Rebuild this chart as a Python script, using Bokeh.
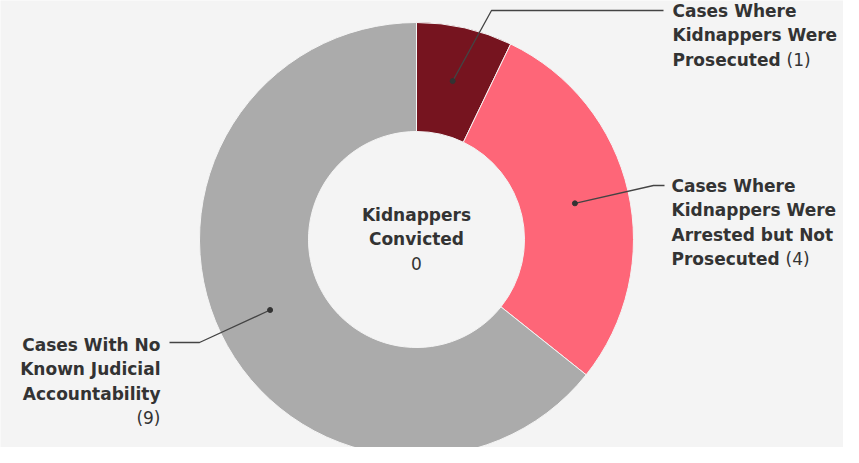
import math
from bokeh.plotting import figure
from bokeh.models import Range1d, ColumnDataSource
from bokeh.core.properties import value
from bokeh.embed import file_html
from bokeh.resources import INLINE

# ---- data ----
categories = ["Cases Where Kidnappers Were Prosecuted",
              "Cases Where Kidnappers Were Arrested but Not Prosecuted",
              "Cases With No Known Judicial Accountability"]
counts = [1, 4, 9]
colors = ["#76141f", "#fe6678", "#ababab"]
center_title = ["Kidnappers", "Convicted"]
center_value = 0

BG = "#f4f4f4"
TXT = "#333333"
FONT = "DejaVu Sans"

W, H = 843, 447
p = figure(width=W, height=H, output_backend="svg", toolbar_location=None,
           x_range=Range1d(8, 8 + W), y_range=Range1d(-(8 + H), -8),
           min_border=0, background_fill_color=BG, border_fill_color=BG)
p.axis.visible = False
p.grid.visible = False
p.outline_line_color = None

cx, cy = 424, -247
r_in, r_out = 108, 217
total = sum(counts)
starts, ends, mids = [], [], []
cum = 0
for c in counts:
    a0 = math.pi / 2 - 2 * math.pi * cum / total
    a1 = math.pi / 2 - 2 * math.pi * (cum + c) / total
    starts.append(a0); ends.append(a1); mids.append((a0 + a1) / 2)
    cum += c

src = ColumnDataSource(dict(start=starts, end=ends, color=colors))
p.annular_wedge(x=cx, y=cy, inner_radius=r_in, outer_radius=r_out,
                start_angle="start", end_angle="end", direction="clock",
                fill_color="color", line_color=BG, line_width=1, source=src)

# leader lines + dots
r_mid = (r_in + r_out) / 2
dots = [(cx + r_mid * math.cos(a), cy + r_mid * math.sin(a)) for a in mids]
elbows = [[(499, -18), (671, -18)], [(661, -193), (672, -193)], [(207, -350), (177, -350)]]
for (dx, dy), el in zip(dots, elbows):
    xs = [dx] + [e[0] for e in el]
    ys = [dy] + [e[1] for e in el]
    p.line(xs, ys, line_color="#444444", line_width=1.3)
p.scatter([d[0] for d in dots], [d[1] for d in dots], size=5, color="#333333")

LH = 24.5
FS = "17px"

def label_block(lines, x, y0, align, last_num, num_x):
    for i, ln in enumerate(lines):
        p.text(x=[x], y=[y0 - i * LH], text=[ln], text_font=value(FONT),
               text_font_style="bold", text_font_size=FS, text_color=TXT,
               text_align=align, text_baseline="middle")
    p.text(x=[num_x[0]], y=[y0 - num_x[1] * LH], text=["(%d)" % last_num],
           text_font=value(FONT), text_font_size=FS, text_color=TXT,
           text_align=align, text_baseline="middle")

label_block(["Cases Where", "Kidnappers Were", "Prosecuted"], 680, -18, "left",
            counts[0], (794, 2))
label_block(["Cases Where", "Kidnappers Were", "Arrested but Not", "Prosecuted"], 679, -193, "left",
            counts[1], (793, 3))
label_block(["Cases With No", "Known Judicial", "Accountability"], 168, -352, "right",
            counts[2], (168, 3))

# center text
for i, ln in enumerate(center_title):
    p.text(x=[cx], y=[-222 - i * LH], text=[ln], text_font=value(FONT),
           text_font_style="bold", text_font_size=FS, text_color=TXT,
           text_align="center", text_baseline="middle")
p.text(x=[cx], y=[-222 - 2 * LH], text=[str(center_value)], text_font=value(FONT),
       text_font_size=FS, text_color=TXT, text_align="center", text_baseline="middle")

open("out.html", "w").write(file_html(p, INLINE))
